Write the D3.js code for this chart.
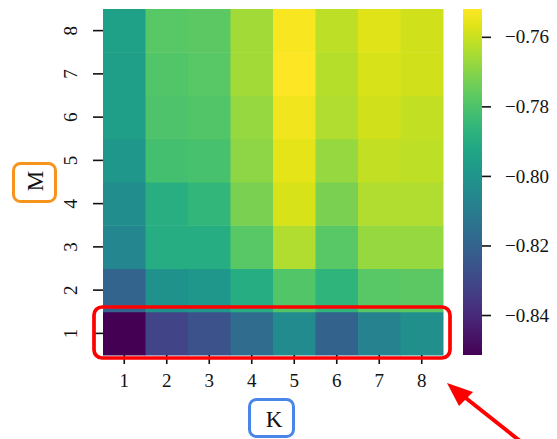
<!DOCTYPE html>
<html><head><meta charset="utf-8">
<script src="https://cdn.jsdelivr.net/npm/d3@7"></script>
<style>body{margin:0;background:#fff}svg{display:block}text{font-family:"Liberation Serif","DejaVu Serif",serif;fill:#111}</style>
</head><body><svg id="c" width="557" height="439"></svg>
<script>
const K = [1,2,3,4,5,6,7,8];
const M = [1,2,3,4,5,6,7,8];
// values[m-1][k-1]
const row1 = [-0.8515,-0.8316,-0.8266,-0.8167,-0.8037,-0.8207,-0.8077,-0.8018];
const row2 = [-0.8197,-0.8008,-0.7988,-0.7898,-0.7789,-0.7868,-0.7779,-0.7769];
const row3 = [-0.8057,-0.7898,-0.7898,-0.7779,-0.7639,-0.7779,-0.7679,-0.7679];
const row4 = [-0.8028,-0.7890,-0.7860,-0.7719,-0.7580,-0.7719,-0.7639,-0.7639];
const row5 = [-0.7988,-0.7819,-0.7809,-0.7689,-0.7560,-0.7679,-0.7610,-0.7620];
const row6 = [-0.7958,-0.7799,-0.7789,-0.7679,-0.7540,-0.7639,-0.7590,-0.7610];
const row7 = [-0.7958,-0.7789,-0.7779,-0.7659,-0.7520,-0.7629,-0.7580,-0.7590];
const row8 = [-0.7948,-0.7779,-0.7769,-0.7659,-0.7530,-0.7620,-0.7570,-0.7590];
const rows = [row1,row2,row3,row4,row5,row6,row7,row8];
const cbarTicks = [-0.76,-0.78,-0.80,-0.82,-0.84];

const svg = d3.select("#c");
const L=103,R=443,T=9,B=355;
const x = d3.scaleBand().domain(K).range([L,R]);
const y = d3.scaleBand().domain(M).range([B,T]);
const all = rows.flat();
const ext = d3.extent(all);
const color = d3.scaleSequential(d3.interpolateViridis).domain(ext);

const cells = [];
rows.forEach((r,mi)=>r.forEach((v,ki)=>cells.push({m:M[mi],k:K[ki],v})));
svg.append("g").selectAll("rect").data(cells).join("rect")
  .attr("x",d=>x(d.k)).attr("y",d=>y(d.m))
  .attr("width",x.bandwidth()+0.5).attr("height",y.bandwidth()+0.5)
  .attr("fill",d=>color(d.v));

// axes
const fs = 19;
const xa = svg.append("g").attr("transform",`translate(0,${B})`)
  .call(d3.axisBottom(x).tickSize(9).tickPadding(6));
xa.select(".domain").remove();
xa.selectAll("line").attr("stroke","#111").attr("stroke-width",1.6);
xa.selectAll("text").attr("font-family","Liberation Serif").style("font-size",fs+"px").attr("dy","0.9em");

const ya = svg.append("g").attr("transform",`translate(${L},0)`)
  .call(d3.axisLeft(y).tickSize(10).tickFormat(d=>d));
ya.select(".domain").remove();
ya.selectAll("line").attr("stroke","#111").attr("stroke-width",1.6);
ya.selectAll("text").remove();
ya.selectAll(".tick").append("text")
  .attr("transform","translate(-26,0) rotate(-90)")
  .attr("text-anchor","middle").attr("dy","0").attr("font-family","Liberation Serif")
  .style("font-size",fs+"px").text(d=>d);

// colorbar
const cx0=463, cw=19;
const cy = d3.scaleLinear().domain(ext).range([B,T]);
const defs = svg.append("defs");
const grad = defs.append("linearGradient").attr("id","vg").attr("x1",0).attr("y1",1).attr("x2",0).attr("y2",0);
d3.range(0,1.001,0.05).forEach(t=>grad.append("stop").attr("offset",t).attr("stop-color",d3.interpolateViridis(t)));
svg.append("rect").attr("x",cx0).attr("y",T).attr("width",cw).attr("height",B-T).attr("fill","url(#vg)");
const fmt = v => (v<0?"\u2212":"")+Math.abs(v).toFixed(2);
const ca = svg.append("g").attr("transform",`translate(${cx0+cw},0)`)
  .call(d3.axisRight(cy).tickValues(cbarTicks).tickSize(9).tickPadding(14).tickFormat(fmt));
ca.select(".domain").remove();
ca.selectAll("line").attr("stroke","#111").attr("stroke-width",1.6);
ca.selectAll("text").attr("font-family","Liberation Serif").style("font-size",fs+"px");

// axis labels with boxes
svg.append("rect").attr("x",13.5).attr("y",163.5).attr("width",42).attr("height",38).attr("rx",7)
  .attr("fill","none").attr("stroke","#f7941d").attr("stroke-width",3);
svg.append("text").attr("transform","translate(43,181) rotate(-90)").attr("text-anchor","middle")
  .style("font-size","23px").text("M");
svg.append("rect").attr("x",249.5).attr("y",399.5).attr("width",44).attr("height",37).attr("rx",7)
  .attr("fill","none").attr("stroke","#4a86e8").attr("stroke-width",3);
svg.append("text").attr("x",274).attr("y",427).attr("text-anchor","middle")
  .style("font-size","23px").text("K");

// highlight
svg.append("rect").attr("x",94).attr("y",307).attr("width",356).attr("height",51).attr("rx",8)
  .attr("fill","none").attr("stroke","#ff0000").attr("stroke-width",3.7);
// arrow
svg.append("line").attr("x1",520).attr("y1",441).attr("x2",462).attr("y2",395)
  .attr("stroke","#ff0000").attr("stroke-width",4);
svg.append("path").attr("d","M447,383 L473,392 L459,406 Z").attr("fill","#ff0000");
</script></body></html>
